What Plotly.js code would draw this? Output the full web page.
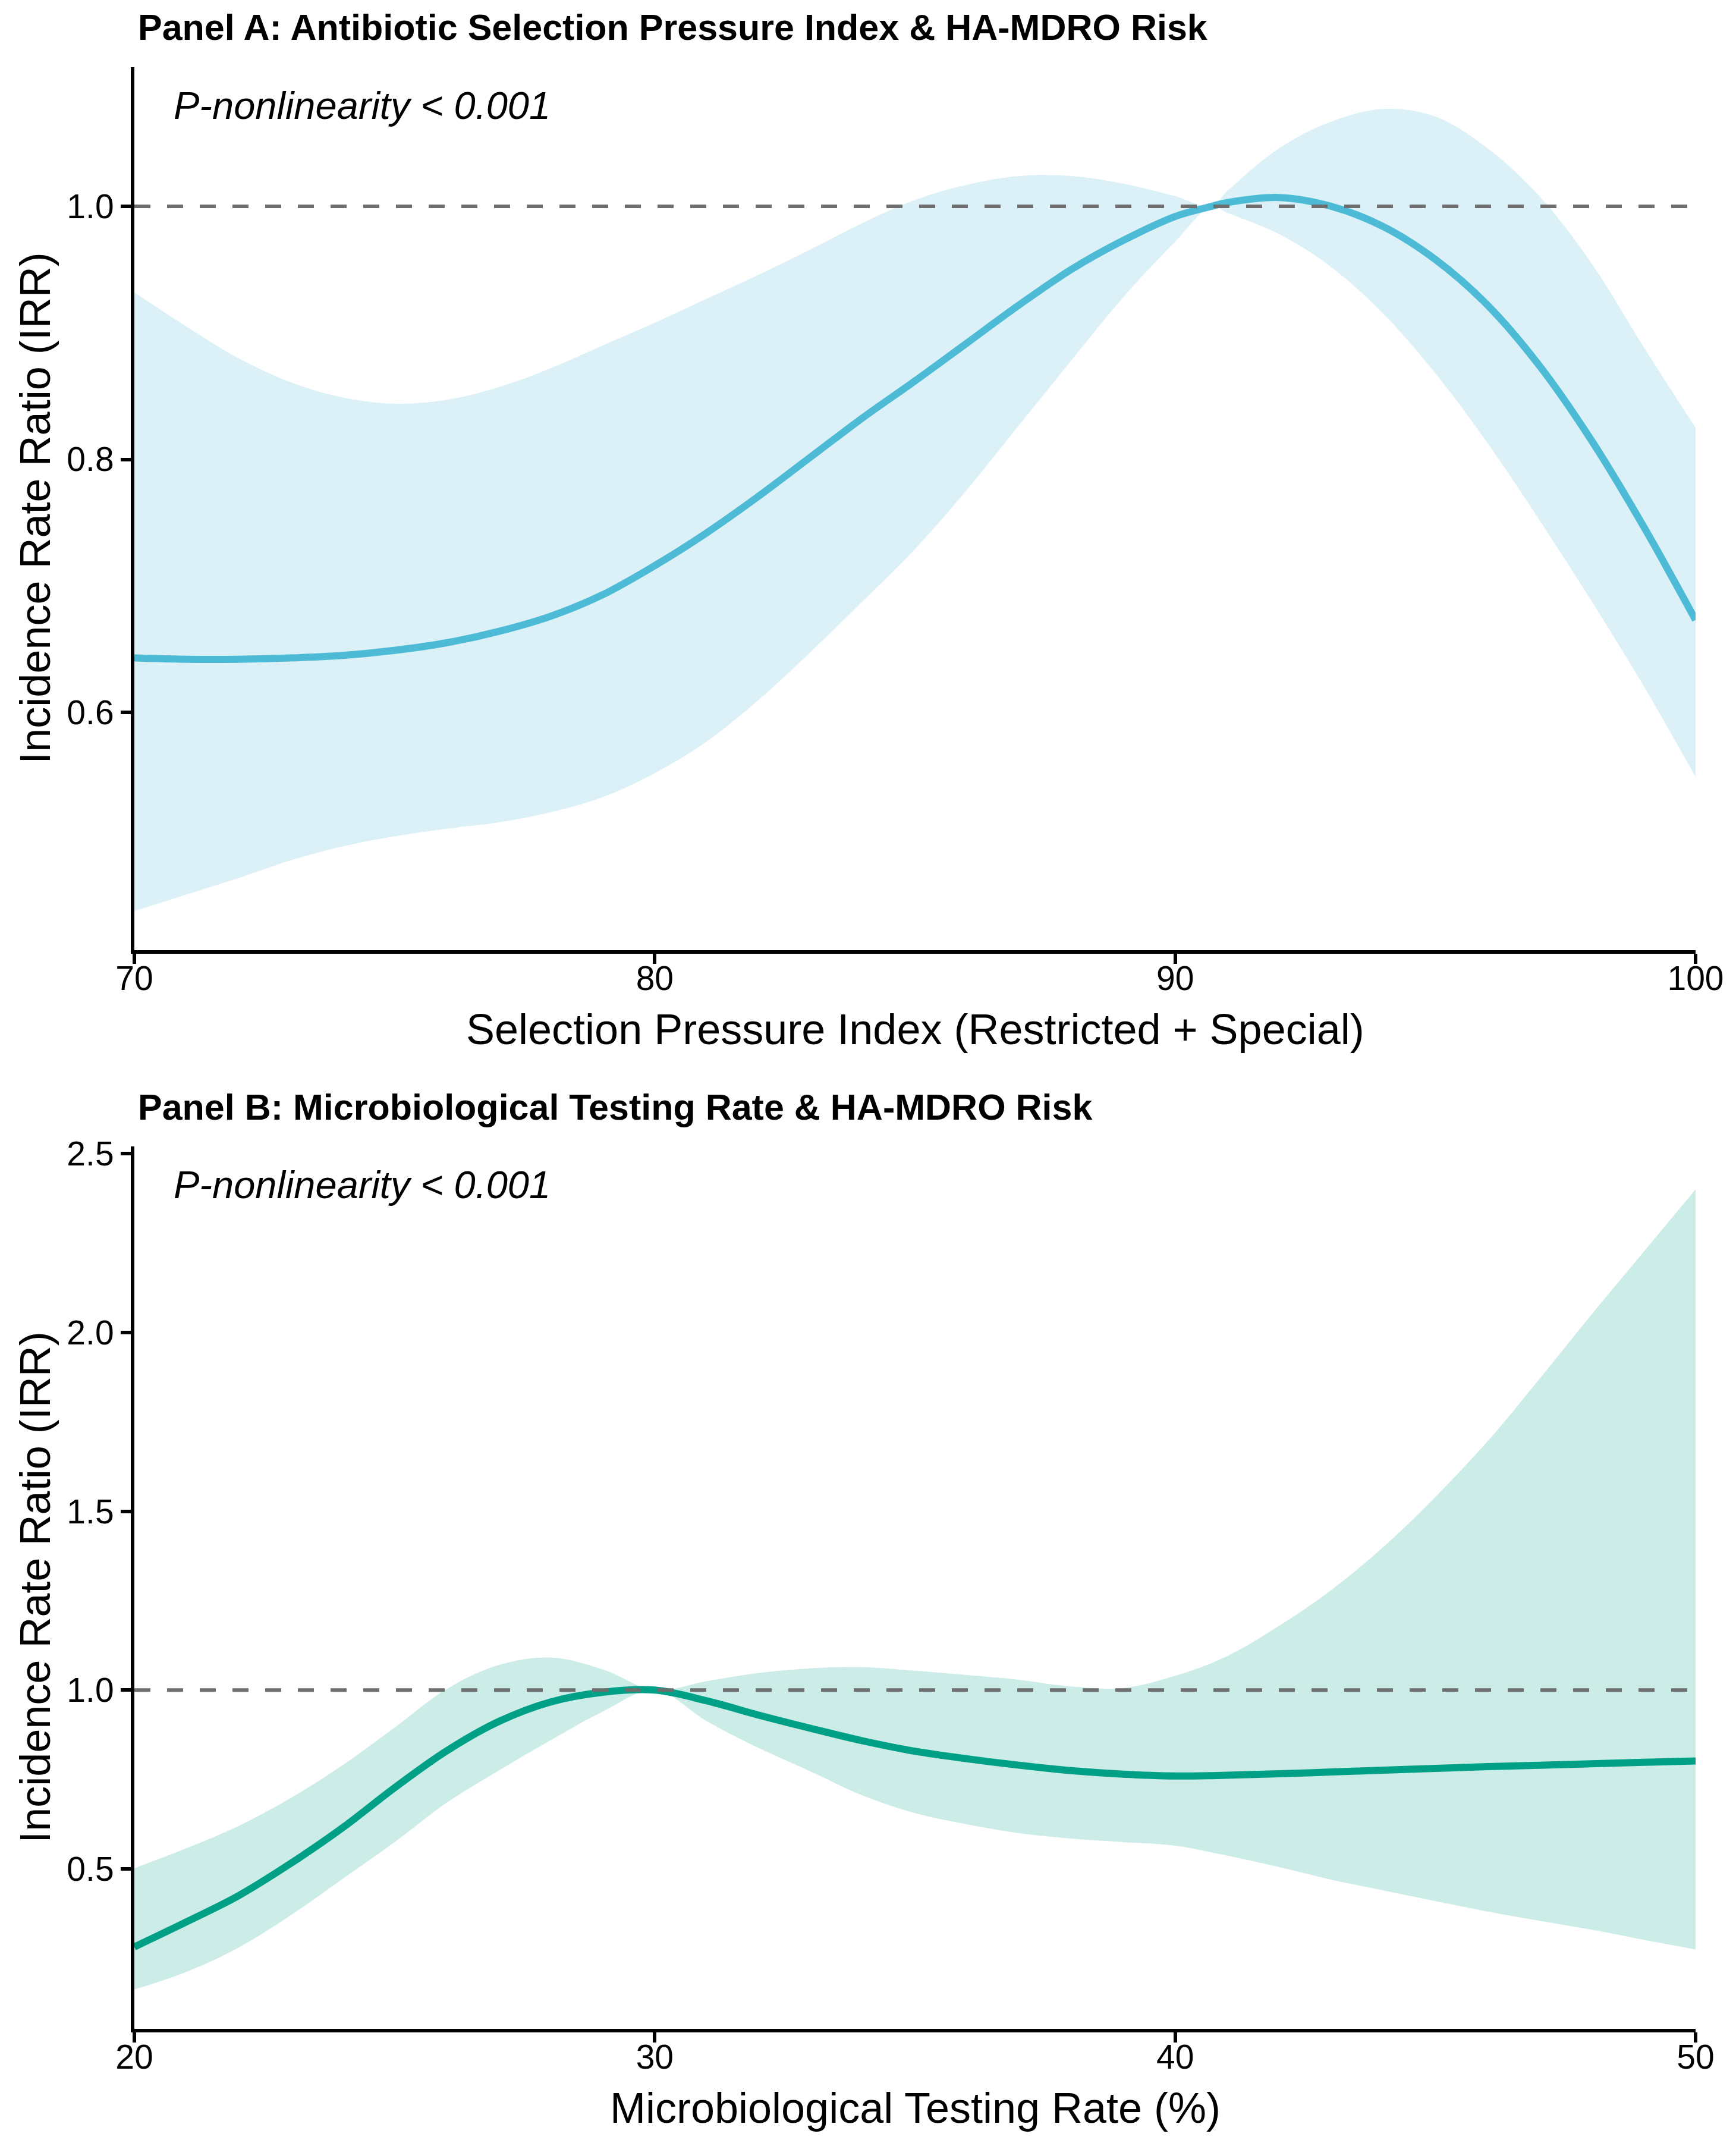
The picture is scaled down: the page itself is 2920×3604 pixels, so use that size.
<!DOCTYPE html>
<html>
<head>
<meta charset="utf-8">
<script src="https://cdn.plot.ly/plotly-3.0.1.min.js"></script>
<style>html,body{margin:0;padding:0;background:#fff;}#chart{width:2920px;height:3604px;}</style>
</head>
<body>
<div id="chart"></div>
<script>
// ---------- Panel A data ----------
const xA = [70,71,72,73,74,75,76,77,78,79,80,81,82,83,84,85,86,87,88,89,90,90.7,91,92,93,94,95,96,97,98,99,100];
const irrA = [0.643,0.642,0.642,0.643,0.645,0.649,0.655,0.664,0.676,0.693,0.716,0.742,0.771,0.802,0.833,0.862,0.892,0.922,0.950,0.973,0.992,1.000,1.003,1.007,1.000,0.984,0.958,0.922,0.874,0.815,0.747,0.673];
const upA = [0.932,0.905,0.880,0.861,0.849,0.844,0.847,0.857,0.872,0.890,0.908,0.927,0.946,0.966,0.987,1.005,1.017,1.024,1.024,1.018,1.008,1.000,1.012,1.046,1.067,1.077,1.071,1.046,1.008,0.955,0.889,0.825];
const loA = [0.443,0.456,0.469,0.483,0.494,0.502,0.508,0.513,0.521,0.533,0.552,0.577,0.610,0.648,0.688,0.729,0.776,0.827,0.878,0.928,0.972,1.000,0.995,0.978,0.952,0.915,0.868,0.813,0.752,0.688,0.621,0.549];
const ticksXA = [70,80,90,100];
const ticksYA = [0.6,0.8,1.0];

// ---------- Panel B data ----------
const xB = [20,21,22,23,24,25,26,27,28,29,30,31,32,33,34,35,36,37,38,39,40,41,42,43,44,45,46,47,48,49,50];
const irrB = [0.282,0.352,0.425,0.515,0.615,0.727,0.830,0.912,0.967,0.994,1.000,0.970,0.930,0.893,0.858,0.829,0.808,0.790,0.775,0.765,0.760,0.762,0.766,0.771,0.776,0.781,0.786,0.790,0.794,0.798,0.802];
const upB = [0.502,0.558,0.620,0.698,0.790,0.895,1.003,1.070,1.091,1.058,1.000,1.025,1.048,1.061,1.064,1.054,1.042,1.029,1.010,1.006,1.040,1.095,1.180,1.280,1.400,1.540,1.695,1.870,2.050,2.225,2.400];
const loB = [0.163,0.212,0.280,0.370,0.472,0.575,0.685,0.775,0.860,0.940,1.000,0.913,0.838,0.772,0.705,0.656,0.625,0.600,0.585,0.575,0.565,0.537,0.505,0.470,0.440,0.410,0.381,0.355,0.330,0.302,0.275];
const ticksXB = [20,30,40,50];
const ticksYB = [0.5,1.0,1.5,2.0,2.5];

const titleA = 'Panel A: Antibiotic Selection Pressure Index &amp; HA-MDRO Risk';
const titleB = 'Panel B: Microbiological Testing Rate &amp; HA-MDRO Risk';
const xTitleA = 'Selection Pressure Index (Restricted + Special)';
const xTitleB = 'Microbiological Testing Rate (%)';
const yTitle = 'Incidence Rate Ratio (IRR)';
const pText = 'P-nonlinearity &lt; 0.001';

const colA = '#4DBBD5', fillA = 'rgba(77,187,213,0.2)';
const colB = '#00A087', fillB = 'rgba(0,160,135,0.2)';
const FONT = 'Liberation Sans, Arial, Helvetica, sans-serif';

// pixel -> paper helpers (plot area 226..2852 x 113..3412)
const L = 226, R = 2852, T = 113, B = 3412;
const px = x => (x - L) / (R - L);
const py = y => (B - y) / (B - T);

function band(x, lo, up, fill, xa, ya) {
  return [
    {x: x, y: lo, type: 'scatter', mode: 'lines', line: {width: 0, shape: 'spline'}, xaxis: xa, yaxis: ya, hoverinfo: 'skip', showlegend: false},
    {x: x, y: up, type: 'scatter', mode: 'lines', line: {width: 0, shape: 'spline'}, fill: 'tonexty', fillcolor: fill, xaxis: xa, yaxis: ya, hoverinfo: 'skip', showlegend: false}
  ];
}
const traces = [
  ...band(xA, loA, upA, fillA, 'x', 'y'),
  {x: xA, y: irrA, type: 'scatter', mode: 'lines', line: {color: colA, width: 12, shape: 'spline'}, xaxis: 'x', yaxis: 'y', showlegend: false},
  ...band(xB, loB, upB, fillB, 'x2', 'y2'),
  {x: xB, y: irrB, type: 'scatter', mode: 'lines', line: {color: colB, width: 12, shape: 'spline'}, xaxis: 'x2', yaxis: 'y2', showlegend: false}
];

const axBase = {
  showgrid: false, zeroline: false, showline: true, linecolor: '#000', linewidth: 6,
  ticks: 'outside', ticklen: 17, tickwidth: 6, tickcolor: '#000',
  tickfont: {family: FONT, size: 57, color: '#000'}, automargin: false, fixedrange: true
};
const xExtra = {ticklabelstandoff: -24};
const splitTop = py(1598), splitBot = py(1928);

const layout = {
  width: 2920, height: 3604,
  margin: {l: L, r: 2920 - R, t: T, b: 3604 - B},
  paper_bgcolor: '#fff', plot_bgcolor: '#fff',
  font: {family: FONT, color: '#000'},
  showlegend: false,
  xaxis: Object.assign({}, axBase, xExtra, {domain: [0, 1], range: [70, 100], tickvals: ticksXA, ticktext: ticksXA.map(String), anchor: 'y'}),
  yaxis: Object.assign({}, axBase, {domain: [splitTop, 1], range: [0.412, 1.110], tickvals: ticksYA, ticktext: ticksYA.map(v => v.toFixed(1)), anchor: 'x'}),
  xaxis2: Object.assign({}, axBase, xExtra, {domain: [0, 1], range: [20, 50], tickvals: ticksXB, ticktext: ticksXB.map(String), anchor: 'y2'}),
  yaxis2: Object.assign({}, axBase, {domain: [0, splitBot], range: [0.053, 2.52], tickvals: ticksYB, ticktext: ticksYB.map(v => v.toFixed(1)), anchor: 'x2'}),
  shapes: [
    {type: 'line', xref: 'x domain', yref: 'y', x0: 0, x1: 1, y0: 1, y1: 1, layer: 'above', line: {color: '#6E6E6E', width: 6, dash: '27px,28px'}},
    {type: 'line', xref: 'x2 domain', yref: 'y2', x0: 0, x1: 1, y0: 1, y1: 1, layer: 'above', line: {color: '#6E6E6E', width: 6, dash: '27px,28px'}}
  ],
  annotations: [
    {text: titleA, xref: 'paper', yref: 'paper', x: px(230), y: py(46.5), xanchor: 'left', yanchor: 'middle', showarrow: false, font: {family: FONT, size: 61, weight: 'bold', color: '#000'}},
    {text: titleB, xref: 'paper', yref: 'paper', x: px(230), y: py(1861.5), xanchor: 'left', yanchor: 'middle', showarrow: false, font: {family: FONT, size: 61, weight: 'bold', color: '#000'}},
    {text: pText, xref: 'paper', yref: 'paper', x: px(290), y: py(177.8), xanchor: 'left', yanchor: 'middle', showarrow: false, font: {family: FONT, size: 65, style: 'italic', color: '#000'}},
    {text: pText, xref: 'paper', yref: 'paper', x: px(290), y: py(1992.8), xanchor: 'left', yanchor: 'middle', showarrow: false, font: {family: FONT, size: 65, style: 'italic', color: '#000'}},
    {text: xTitleA, xref: 'paper', yref: 'paper', x: px(1539), y: py(1730.7), xanchor: 'center', yanchor: 'middle', showarrow: false, font: {family: FONT, size: 72, color: '#000'}},
    {text: xTitleB, xref: 'paper', yref: 'paper', x: px(1539), y: py(3544.7), xanchor: 'center', yanchor: 'middle', showarrow: false, font: {family: FONT, size: 72, color: '#000'}},
    {text: yTitle, xref: 'paper', yref: 'paper', x: px(58.7), y: py(855), xanchor: 'center', yanchor: 'middle', textangle: -90, showarrow: false, font: {family: FONT, size: 72, color: '#000'}},
    {text: yTitle, xref: 'paper', yref: 'paper', x: px(58.7), y: py(2670), xanchor: 'center', yanchor: 'middle', textangle: -90, showarrow: false, font: {family: FONT, size: 72, color: '#000'}}
  ]
};

Plotly.newPlot('chart', traces, layout, {staticPlot: true, displayModeBar: false});
</script>
</body>
</html>
